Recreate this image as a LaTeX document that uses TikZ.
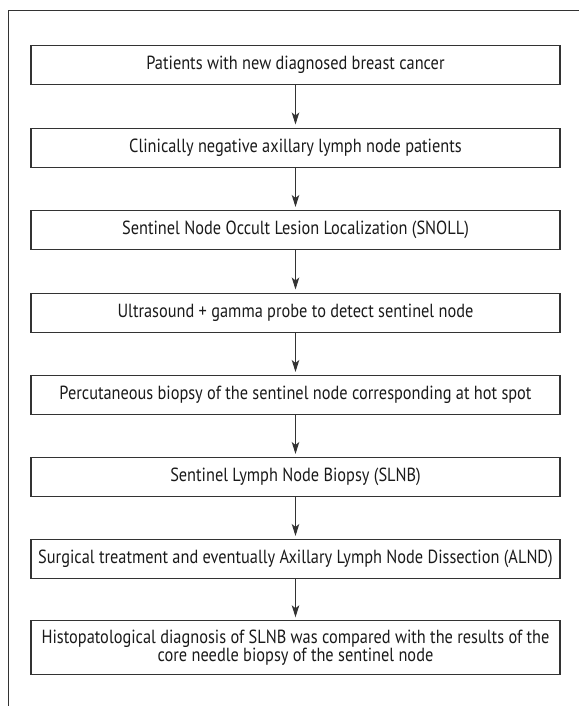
\documentclass[tikz,border=0pt]{standalone}
\usepackage{fontspec}
\setmainfont{PT Sans}[FakeStretch=0.86]
\usetikzlibrary{arrows.meta}
\definecolor{linec}{HTML}{333333}
\definecolor{textc}{HTML}{1A1A1A}
\tikzset{
  flowbox/.style={draw=linec, line width=1.1pt, minimum width=529pt, minimum height=39pt,
    inner sep=0pt, align=center, text=textc, anchor=north,
    font=\fontsize{19}{18.6}\selectfont},
  flowarrow/.style={draw=linec, line width=1.1pt, -{Stealth[length=12pt,width=7.5pt,inset=3pt]}, shorten >=3pt},
  framec/.style={draw=linec, line width=1pt}
}
\begin{document}
\begin{tikzpicture}[x=1pt,y=-1pt]
\useasboundingbox (0,0) rectangle (579,706);
\coordinate (fa) at (8.5,706);
\coordinate (fb) at (8.5,10.5);
\coordinate (fc) at (579,10.5);
\draw[framec] (fa) -- (fb) -- (fc);
\node[flowbox] (b1) at (295.5,45) {Patients with new diagnosed breast cancer};
\node[flowbox] (b2) at (295.5,127.5) {Clinically negative axillary lymph node patients};
\node[flowbox] (b3) at (295.5,210) {Sentinel Node Occult Lesion Localization (SNOLL)};
\node[flowbox] (b4) at (295.5,292.5) {Ultrasound + gamma probe to detect sentinel node};
\node[flowbox] (b5) at (295.5,375) {Percutaneous biopsy of the sentinel node corresponding at hot spot};
\node[flowbox] (b6) at (295.5,457) {Sentinel Lymph Node Biopsy (SLNB)};
\node[flowbox] (b7) at (295.5,539) {Surgical treatment and eventually Axillary Lymph Node Dissection (ALND)};
\node[flowbox, minimum height=54pt] (b8) at (295.5,620.3) {Histopatological diagnosis of SLNB was compared with the results of the\\core needle biopsy of the sentinel node};
\foreach \a/\b in {b1/b2,b2/b3,b3/b4,b4/b5,b5/b6,b6/b7,b7/b8}
  \draw[flowarrow] (\a.south) -- (\b.north);
\end{tikzpicture}
\end{document}
